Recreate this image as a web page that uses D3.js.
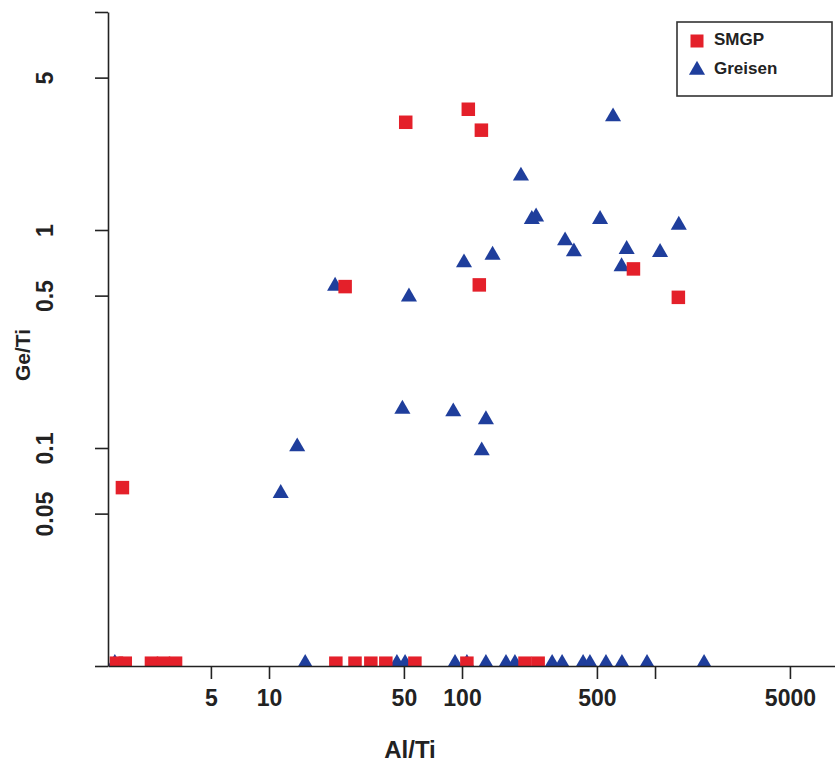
<!DOCTYPE html>
<html>
<head>
<meta charset="utf-8">
<script src="https://cdn.jsdelivr.net/npm/d3@7/dist/d3.min.js"></script>
<style>
  html, body { margin: 0; padding: 0; background: #fff; }
  svg { display: block; }
  text { font-family: "Liberation Sans", Arial, Helvetica, sans-serif; font-weight: bold; fill: #222; }
</style>
</head>
<body>
<svg id="chart" width="835" height="763"></svg>
<script>
// ---- data ----
const seriesNames = ["SMGP", "Greisen"];
// SMGP (red squares)
const smgpAlTi = [51.1, 107.8, 126, 24.8, 122.9, 773, 1321, 1.74,
                  1.62, 1.80, 2.46, 2.84, 3.28, 22.2, 27.9, 33.7, 40.3, 57.0, 106, 212, 248];
const smgpGeTi = [3.12, 3.58, 2.87, 0.55, 0.56, 0.663, 0.491, 0.0658,
                  0.0103, 0.0103, 0.0103, 0.0103, 0.0103, 0.0103, 0.0103, 0.0103, 0.0103, 0.0103, 0.0103, 0.0103, 0.0103];
// Greisen (blue triangles)
const greisenAlTi = [22.0, 53.1, 102.4, 144, 606, 202, 230, 242, 519, 1328, 342, 380, 713, 1062, 671,
                     11.5, 14.0, 49.1, 90.1, 133, 126.5,
                     1.59, 15.4, 46.0, 50.7, 92.0, 106, 133, 169, 188, 293, 330, 424, 460, 557, 674, 909, 1795];
const greisenGeTi = [0.553, 0.494, 0.708, 0.768, 3.31, 1.77, 1.12, 1.15, 1.12, 1.054, 0.893, 0.795, 0.816, 0.79, 0.679,
                     0.062, 0.1014, 0.151, 0.1467, 0.135, 0.0972,
                     0.0103, 0.0103, 0.0103, 0.0103, 0.0103, 0.0103, 0.0103, 0.0103, 0.0103, 0.0103, 0.0103, 0.0103, 0.0103, 0.0103, 0.0103, 0.0103, 0.0103];
const xTicks = [5, 10, 50, 100, 500, 1000, 5000];
const xTickLabels = ["5", "10", "50", "100", "500", "", "5000"];
const yTicks = [0.01, 0.05, 0.1, 0.5, 1, 5, 10];
const yTickLabels = ["", "0.05", "0.1", "0.5", "1", "5", ""];
const xTitle = "Al/Ti";
const yTitle = "Ge/Ti";

// ---- layout ----
const svg = d3.select("#chart");
const pL = 108, pR = 835, pT = 12, pB = 666;
const x = d3.scaleLog().domain([1.465, 8560]).range([pL, pR]);
const y = d3.scaleLog().domain([0.01, 10]).range([pB, pT]);
const axisColor = "#222";
const red = "#E4202A", blue = "#1F3E9C";

svg.append("defs").append("clipPath").attr("id", "plotclip")
  .append("rect").attr("x", pL).attr("y", pT).attr("width", pR - pL).attr("height", pB - pT);

// points
const g = svg.append("g").attr("clip-path", "url(#plotclip)");
const tri = d3.symbol().type(d3.symbolTriangle).size(112);
const sq = 13.5;
const greisen = greisenAlTi.map((v, i) => ({ x: v, y: greisenGeTi[i] }));
const smgp = smgpAlTi.map((v, i) => ({ x: v, y: smgpGeTi[i] }));
g.selectAll("path.tri").data(greisen).join("path").attr("class", "tri")
  .attr("d", tri).attr("fill", blue)
  .attr("transform", d => `translate(${x(d.x)},${y(d.y)})`);
g.selectAll("rect.sq").data(smgp).join("rect").attr("class", "sq")
  .attr("x", d => x(d.x) - sq / 2).attr("y", d => y(d.y) - sq / 2)
  .attr("width", sq).attr("height", sq).attr("fill", red);

// axes
const yAxis = d3.axisLeft(y).tickValues(yTicks).tickFormat((d, i) => yTickLabels[i]).tickSize(13).tickSizeOuter(0);
const yg = svg.append("g").attr("transform", `translate(${pL},0)`).call(yAxis);
yg.attr("font-family", null).attr("font-size", null);
yg.select(".domain").attr("stroke", axisColor).attr("stroke-width", 1.6);
yg.selectAll(".tick line").attr("stroke", axisColor).attr("stroke-width", 1.6);
yg.selectAll(".tick text")
  .attr("x", 0).attr("dy", 0)
  .attr("transform", "translate(-61,0) rotate(-90)")
  .attr("text-anchor", "middle").attr("dominant-baseline", "middle")
  .style("font-size", "23px");

const xAxis = d3.axisBottom(x).tickValues(xTicks).tickFormat((d, i) => xTickLabels[i]).tickSize(13).tickSizeOuter(0);
const xg = svg.append("g").attr("transform", `translate(0,${pB})`).call(xAxis);
xg.attr("font-family", null).attr("font-size", null);
xg.select(".domain").attr("stroke", axisColor).attr("stroke-width", 1.6);
xg.selectAll(".tick line").attr("stroke", axisColor).attr("stroke-width", 1.6);
xg.selectAll(".tick text").attr("y", 34).attr("dy", 0).attr("dominant-baseline", "middle")
  .style("font-size", "23px");
svg.selectAll(".tick text").attr("fill", "#222");

// titles
svg.append("text").attr("x", 410).attr("y", 752).attr("text-anchor", "middle")
  .attr("dominant-baseline", "middle").style("font-size", "24px").text(xTitle);
svg.append("text").attr("transform", "translate(24,355) rotate(-90)").attr("text-anchor", "middle")
  .attr("dominant-baseline", "middle").style("font-size", "21px").text(yTitle);

// legend
const lg = svg.append("g");
lg.append("rect").attr("x", 677).attr("y", 22).attr("width", 155).attr("height", 74)
  .attr("fill", "#fff").attr("stroke", "#333").attr("stroke-width", 1.6);
lg.append("rect").attr("x", 697 - 6.5).attr("y", 41 - 6.5).attr("width", 13).attr("height", 13).attr("fill", red);
lg.append("path").attr("d", tri).attr("fill", blue).attr("transform", "translate(697,70)");
lg.append("text").attr("x", 714).attr("y", 41).attr("dominant-baseline", "middle").style("font-size", "17px").text(seriesNames[0]);
lg.append("text").attr("x", 714).attr("y", 70).attr("dominant-baseline", "middle").style("font-size", "17px").text(seriesNames[1]);
</script>
</body>
</html>
